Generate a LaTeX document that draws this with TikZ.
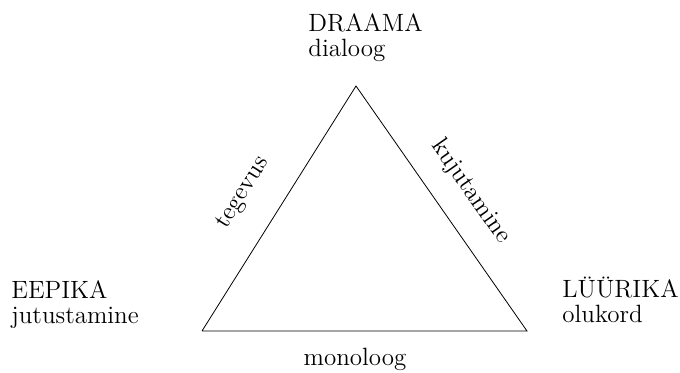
\documentclass[tikz,border=0pt]{standalone}
\usetikzlibrary{positioning}

\begin{document}
\begin{tikzpicture}[
  x=0.5pt, y=-0.5pt, font=\fontsize{12.5}{12.5}\selectfont,
  genre/.style={align=left, anchor=base west, inner sep=0pt},
  side/.style={sloped, inner sep=0pt}
]
  \useasboundingbox (0,0) rectangle (680,373);
  \coordinate (top) at (356,86);
  \coordinate (left) at (202,331);
  \coordinate (right) at (527,331);
  % base anchor sits on the last line
  \node[genre] (draama) at (308,57) {DRAAMA\\dialoog};
  \node[genre] (eepika) at (11,324) {EEPIKA\\jutustamine};
  \node[genre] (lyyrika) at (562,323) {LÜÜRIKA\\olukord};
  \node[anchor=base, inner sep=0pt] (monoloog) at (355,366) {monoloog};
  \draw (left) -- node[side, pos=0.48, above=14pt] (tegevus) {tegevus} (top)
        -- node[side, pos=0.51, above=11pt] (kujutamine) {kujutamine} (right)
        -- (left);
\end{tikzpicture}
\end{document}
